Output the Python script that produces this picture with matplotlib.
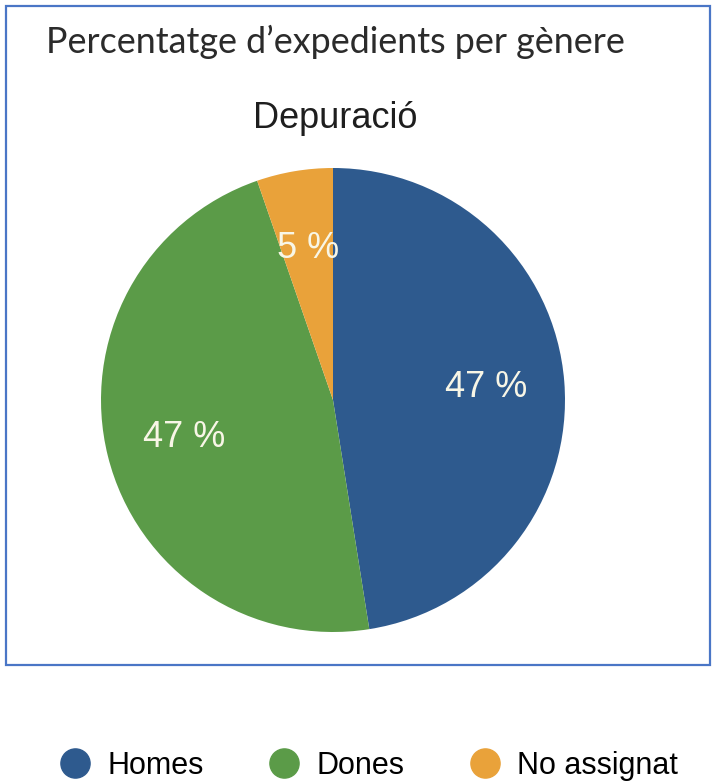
import numpy as np
import matplotlib.pyplot as plt
from matplotlib.patches import Rectangle
from matplotlib.lines import Line2D

# data
categories = ["Homes", "Dones", "No assignat"]
shares = [47.5, 47.2, 5.3]
pct_labels = ["47 %", "47 %", "5 %"]
colors = ["#2E5A8E", "#5B9B48", "#E9A23A"]

W, H = 712, 782
fig = plt.figure(figsize=(W / 100, H / 100), dpi=100)

# blue frame round the chart part
fig.patches.append(Rectangle((6 / W, 1 - 665 / H), 704 / W, 659 / H,
                             transform=fig.transFigure, fill=False,
                             edgecolor="#4A76C6", linewidth=1.6))

fig.text(46 / W, 1 - 42 / H, "Percentatge d\u2019expedients per g\u00e8nere",
         family="Lato", fontsize=25.8, color="#2B2B2B", va="center", ha="left")
fig.text(335 / W, 1 - 118 / H, "Depuraci\u00f3", family="Liberation Sans",
         fontsize=26, color="#1E1E1E", va="center", ha="center")

# pie, centre (333,400) px, radius 232 px
r = 232
ax = fig.add_axes([(333 - r) / W, 1 - (400 + r) / H, 2 * r / W, 2 * r / H])
wedges, _ = ax.pie(shares, colors=colors, startangle=90, counterclock=False,
                   radius=1, wedgeprops=dict(linewidth=0))
for w, lab in zip(wedges, pct_labels):
    ang = np.deg2rad((w.theta1 + w.theta2) / 2)
    ax.text(0.66 * np.cos(ang), 0.66 * np.sin(ang), lab, ha="center", va="center",
            fontsize=26, color="#F8F6E6", family="Liberation Sans")
ax.set_xlim(-1, 1)
ax.set_ylim(-1, 1)
ax.set_aspect("auto")
ax.axis("off")

handles = [Line2D([], [], marker="o", linestyle="none", markersize=21,
                  markerfacecolor=c, markeredgecolor=c) for c in colors]
fig.legend(handles, categories, loc="center", bbox_to_anchor=(369 / W, 1 - 766 / H),
           ncol=3, frameon=False, prop=dict(family="Liberation Sans", size=22),
           handletextpad=0.55, columnspacing=2.15, handlelength=1.0)

fig.savefig("out.png", dpi=100, facecolor="white")
